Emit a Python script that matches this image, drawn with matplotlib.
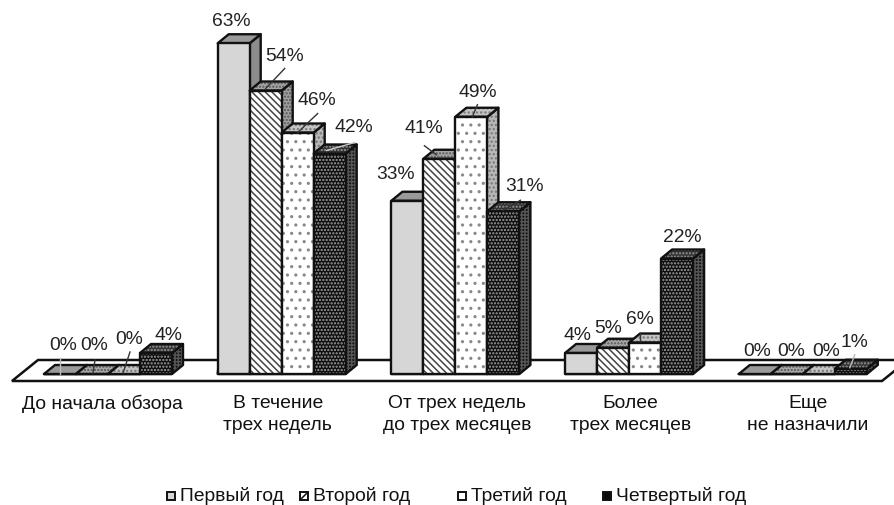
import matplotlib
matplotlib.use("Agg")
import matplotlib.pyplot as plt
from matplotlib.patches import Polygon, Rectangle

plt.rcParams["font.family"] = ["Liberation Sans", "DejaVu Sans"]
plt.rcParams["hatch.linewidth"] = 1.1

categories = ["До начала обзора", "В течение\nтрех недель", "От трех недель\nдо трех месяцев",
              "Более\nтрех месяцев", "Еще\nне назначили"]
series_names = ["Первый год", "Второй год", "Третий год", "Четвертый год"]
first_year = [0, 63, 33, 4, 0]
second_year = [0, 54, 41, 5, 0]
third_year = [0, 46, 49, 6, 0]
fourth_year = [4, 42, 31, 22, 1]
series = [first_year, second_year, third_year, fourth_year]

# pixel scale of the picture
W, H = 895, 505
X0, STEP = 44.0, 173.7
Y0, YSC = 374.0, 5.25
BAR = 32 / STEP
DX = 11 / STEP
DY = 9 / YSC
LW = 1.7
FSZ = 13.9

# front, top, side: (face, hatch colour, hatch)
styles = [
    [("#d6d6d6", None, None), ("#9a9a9a", None, None), ("#8c8c8c", None, None)],
    [("#ffffff", "#444444", "\\\\\\\\\\"), ("#a8a8a8", "#555555", "....."), ("#a0a0a0", "#555555", ".....")],
    [("#ffffff", "#888888", ".."), ("#c4c4c4", "#777777", "...."), ("#b8b8b8", "#777777", "....")],
    [("#0c0c0c", "#a0a0a0", "....."), ("#303030", "#999999", "....."), ("#0e0e0e", "#555555", "+++++")],
]

# label offsets from the top of each bar, pixels
label_off = [
    [(3, 29), (2, 29), (5, 35), (13, 18)],
    [(-2, 23), (19, 35), (19, 33), (24, 27)],
    [(-12, 27), (-16, 31), (6, 25), (21, 26)],
    [(-4, 18), (-5, 20), (-5, 24), (5, 22)],
    [(2, 23), (4, 23), (7, 23), (4, 27)],
]
# leader lines: group, bar, start offset, end offset, colour
leaders = [
    (0, 0, (0, 0), (0, 16), "#bbbbbb"),
    (0, 1, (1, 1), (3, 14), "#333333"),
    (0, 2, (-1, 1), (6, 22), "#333333"),
    (1, 1, (0, 2), (19, 22), "#333333"),
    (1, 2, (0, 0), (20, 19), "#333333"),
    (1, 3, (-3, 3), (25, 11), "#cccccc"),
    (2, 1, (-3, 4), (-15, 13), "#333333"),
    (2, 2, (1, 0), (6, 12), "#333333"),
    (2, 3, (0, 1), (17, 11), "#333333"),
    (3, 2, (-5, 2), (-5, 10), "#333333"),
    (4, 3, (-1, 1), (4, 14), "#bbbbbb"),
]
label_shift = [-6, -4, 2, 1, 5]
legend_x = [171, 304, 462, 607]
legend_hatch = [None, "////", None, None]

fig = plt.figure(figsize=(W / 100, H / 100), dpi=100)
ax = fig.add_axes([0, 0, 1, 1])
ax.set_xlim(-X0 / STEP, (W - X0) / STEP)
ax.set_ylim((Y0 - H) / YSC, Y0 / YSC)
ax.axis("off")


def face(pts, st, z):
    fc, hc, ht = st
    if ht:
        ax.add_patch(Polygon(pts, facecolor=fc, edgecolor=hc, hatch=ht, lw=0, zorder=z))
    else:
        ax.add_patch(Polygon(pts, facecolor=fc, edgecolor="none", zorder=z))
    ax.add_patch(Polygon(pts, fill=False, edgecolor="#111111", lw=LW, joinstyle="round", zorder=z))


# floor
floor = [(-32 / STEP, -7 / YSC), (838 / STEP, -7 / YSC), (864 / STEP, 14 / YSC), (-6 / STEP, 14 / YSC)]
ax.add_patch(Polygon(floor, facecolor="white", edgecolor="#111111", lw=1.8, zorder=1))

z = 2
for g in range(len(categories)):
    for j, vals in enumerate(series):
        v = vals[g]
        x = g + j * BAR
        st = styles[j]
        face([(x, 0), (x + BAR, 0), (x + BAR + DX, DY), (x + BAR + DX, v + DY), (x + BAR, v)], st[2], z)
        face([(x, v), (x + BAR, v), (x + BAR + DX, v + DY), (x + DX, v + DY)], st[1], z + 0.1)
        if v > 0:
            face([(x, 0), (x + BAR, 0), (x + BAR, v), (x, v)], st[0], z + 0.2)
        z += 1

for g in range(len(categories)):
    for j, vals in enumerate(series):
        v = vals[g]
        cx = g + (j + 0.5) * BAR
        off = label_off[g][j]
        ax.annotate("%d%%" % v, xy=(cx, v), xytext=(off[0] * 0.72, (off[1] - 1) * 0.72),
                    textcoords="offset points", ha="center", va="center",
                    fontsize=FSZ, color="#222222", zorder=200)

for g, j, a, b, clr in leaders:
    v = series[j][g]
    cx = g + (j + 0.5) * BAR
    ax.plot([cx + a[0] / STEP, cx + b[0] / STEP], [v + a[1] / YSC, v + b[1] / YSC],
            color=clr, lw=1.0, zorder=150)

for g, name in enumerate(categories):
    ax.text(g + 2 * BAR + label_shift[g] / STEP, (Y0 - 395) / YSC, name, ha="center", va="top",
            fontsize=FSZ, color="#111111", linespacing=1.42)

for j, name in enumerate(series_names):
    px = legend_x[j]
    fc, hc, ht = styles[j][0]
    ax.add_patch(Rectangle(((px - 4) / W, 1 - 500 / H), 8 / W, 8 / H, transform=ax.transAxes,
                           facecolor=fc, edgecolor="#111111", lw=1.4, hatch=legend_hatch[j], zorder=5))
    ax.text((px + 9) / W, 1 - 496 / H, name, transform=ax.transAxes, ha="left", va="center",
            fontsize=FSZ, color="#111111")

fig.savefig("out.png", dpi=100)
